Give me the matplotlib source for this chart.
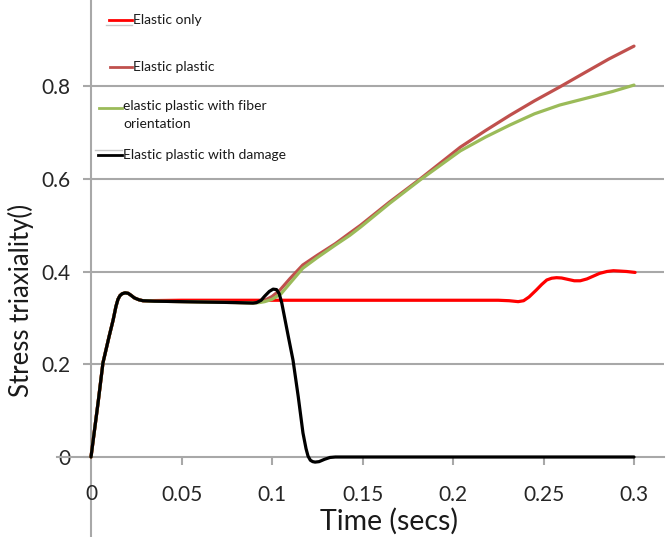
import matplotlib
matplotlib.use("Agg")
import matplotlib.pyplot as plt
from matplotlib.lines import Line2D

# start of all four runs (identical up to ~0.09 s)
early_x = [0, 0.004, 0.0066, 0.01, 0.0122, 0.0138, 0.0149, 0.016, 0.0172, 0.0188, 0.0205, 0.022,
           0.024, 0.0265, 0.0287, 0.035, 0.05, 0.065, 0.08, 0.0895]
early_y = [0, 0.12, 0.203, 0.26, 0.295, 0.325, 0.340, 0.348, 0.352, 0.354, 0.353, 0.349,
           0.343, 0.339, 0.337, 0.336, 0.335, 0.334, 0.333, 0.332]

only_x = early_x[:15] + [0.05, 0.1, 0.15, 0.2, 0.225, 0.231, 0.236, 0.239, 0.242, 0.246, 0.249,
                          0.2518, 0.2545, 0.2572, 0.260, 0.2635, 0.267, 0.2703, 0.274, 0.2775,
                          0.281, 0.285, 0.2886, 0.292, 0.296, 0.3006]
only_y = early_y[:15] + [0.338, 0.338, 0.338, 0.338, 0.338, 0.337, 0.335, 0.337, 0.345, 0.360, 0.372,
                          0.3817, 0.3855, 0.3867, 0.386, 0.383, 0.380, 0.380, 0.384, 0.390,
                          0.396, 0.400, 0.4017, 0.401, 0.400, 0.398]

plastic_x = early_x + [0.093, 0.096, 0.1, 0.1044, 0.11, 0.117, 0.125, 0.135, 0.143, 0.149, 0.165, 0.182,
                       0.204, 0.218, 0.2315, 0.245, 0.259, 0.272, 0.286, 0.3]
plastic_y = early_y + [0.334, 0.338, 0.346, 0.360, 0.385, 0.414, 0.435, 0.460, 0.483, 0.500, 0.550, 0.600,
                       0.668, 0.704, 0.737, 0.768, 0.798, 0.827, 0.858, 0.886]

fiber_x = early_x + [0.093, 0.096, 0.1, 0.105, 0.11, 0.117, 0.125, 0.135, 0.143, 0.149, 0.165, 0.182,
                     0.204, 0.218, 0.2315, 0.245, 0.259, 0.272, 0.288, 0.3]
fiber_y = early_y + [0.333, 0.335, 0.340, 0.352, 0.375, 0.407, 0.430, 0.457, 0.478, 0.496, 0.547, 0.598,
                     0.660, 0.690, 0.716, 0.740, 0.759, 0.772, 0.788, 0.802]

damage_x = early_x + [0.0915, 0.094, 0.096, 0.0985, 0.1006, 0.1025, 0.104, 0.1054, 0.107, 0.109,
                      0.1116, 0.1145, 0.1171, 0.1188, 0.1199, 0.1212, 0.1225, 0.1238, 0.126, 0.129,
                      0.132, 0.135, 0.2, 0.3]
damage_y = early_y + [0.333, 0.338, 0.347, 0.357, 0.362, 0.361, 0.352, 0.332, 0.300, 0.260,
                      0.209, 0.130, 0.052, 0.018, 0.002, -0.007, -0.010, -0.011, -0.010, -0.005,
                      -0.001, 0, 0, 0]

labels = ["Elastic only", "Elastic plastic", "elastic plastic with fiber\norientation",
          "Elastic plastic with damage"]
colors = ["#ff0000", "#c0504d", "#9bbb59", "#000000"]

xticks = [0.05, 0.1, 0.15, 0.2, 0.25, 0.3]
yticks = [0, 0.2, 0.4, 0.6, 0.8]

fnt = ["Lato", "DejaVu Sans"]
grey = "#a8a8a8"
txt = "#262626"

fig = plt.figure(figsize=(6.71, 5.37), dpi=100)
ax = fig.add_axes([0, 0, 1, 1])
ax.set_xlim(-0.05028, 0.32044)
ax.set_ylim(-0.1725, 0.98545)

ax.hlines(yticks[1:], 0, 0.3165, color=grey, lw=1.5, zorder=1)

for sp in ["top", "right"]:
    ax.spines[sp].set_visible(False)
ax.spines["left"].set_position(("data", 0))
ax.spines["bottom"].set_position(("data", 0))
ax.spines["bottom"].set_bounds(-0.019, 0.3165)
for sp in ["left", "bottom"]:
    ax.spines[sp].set_color(grey)
    ax.spines[sp].set_linewidth(1.5)

ax.set_xticks(xticks)
ax.set_xticklabels(["0.05", "0.1", "0.15", "0.2", "0.25", "0.3"])
ax.set_yticks(yticks)
ax.set_yticklabels(["0", "0.2", "0.4", "0.6", "0.8"])
ax.tick_params(axis="x", direction="out", length=6, width=1.5, color=grey, pad=14)
ax.tick_params(axis="y", direction="out", length=6, width=1.5, color=grey, pad=9)
for t in ax.get_xticklabels() + ax.get_yticklabels():
    t.set_family(fnt)
    t.set_fontsize(15)
    t.set_color(txt)
ax.text(0, -0.079, "0", ha="center", va="center", family=fnt, fontsize=15, color=txt)

series = [(only_x, only_y), (plastic_x, plastic_y), (fiber_x, fiber_y), (damage_x, damage_y)]
for (xs, ys), c in zip(series, colors):
    ax.plot(xs, ys, color=c, lw=2.3, solid_capstyle="round", solid_joinstyle="round", zorder=3)

fig.text(21 / 671, 1 - 300 / 537, "Stress triaxiality()", rotation=90, ha="center", va="center",
         family=fnt, fontsize=18.5, color="#1a1a1a")
fig.text(389 / 671, 1 - 521 / 537, "Time (secs)", ha="center", va="center",
         family=fnt, fontsize=20.5, color="#1a1a1a")

# legend entries, placed by hand like the original
leg = [(109, 132, 20, 133), (110, 132, 67, 133), (99, 122, 108, 123), (98, 122, 155, 123)]
for (x0, x1, yy, tx), c, lab in zip(leg, colors, labels):
    fig.add_artist(Line2D([x0 / 671, x1 / 671], [1 - yy / 537, 1 - yy / 537], color=c, lw=2))
    ty = 1 - (yy - 8) / 537 if "\n" in lab else 1 - yy / 537
    fig.text(tx / 671, ty, lab, ha="left", va="top" if "\n" in lab else "center",
             family=fnt, fontsize=10, color="#1a1a1a", linespacing=1.65)
# faint grey strokes next to two of the legend keys in the original
fig.add_artist(Line2D([106 / 671, 132 / 671], [1 - 25 / 537] * 2, color="#c8c8c8", lw=1))
fig.add_artist(Line2D([95 / 671, 122 / 671], [1 - 150 / 537] * 2, color="#c8c8c8", lw=1))

fig.savefig("out.png", dpi=100)
